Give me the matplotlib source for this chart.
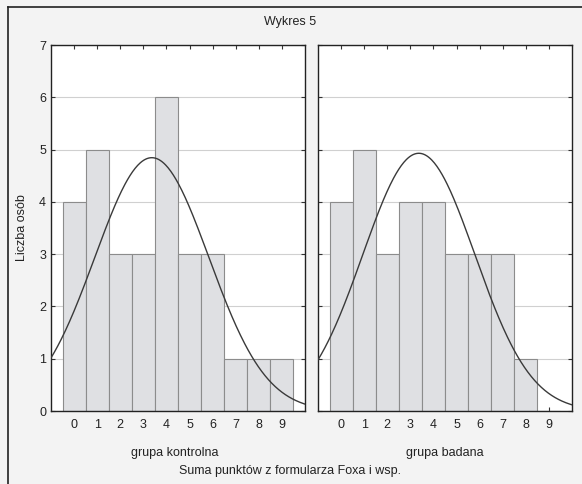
import numpy as np
import matplotlib
matplotlib.use("Agg")
import matplotlib.pyplot as plt
from matplotlib.lines import Line2D

# dane
punkty = [0, 1, 2, 3, 4, 5, 6, 7, 8, 9]
kontrolna = [4, 5, 3, 3, 6, 3, 3, 1, 1, 1]
badana = [4, 5, 3, 4, 4, 3, 3, 3, 1, 0]
etykiety = ["grupa kontrolna", "grupa badana"]

plt.rcParams['font.family'] = ['Liberation Sans', 'DejaVu Sans']

fig = plt.figure(figsize=(5.82, 4.84), dpi=100)
fig.patch.set_facecolor('#f3f3f3')

W, H = 582.0, 484.0
def ax_rect(x0, x1, ytop, ybot):
    return [x0 / W, 1 - ybot / H, (x1 - x0) / W, (ybot - ytop) / H]

ax1 = fig.add_axes(ax_rect(51, 305, 45, 411))
ax2 = fig.add_axes(ax_rect(318, 572, 45, 411))

for ax, dane in [(ax1, kontrolna), (ax2, badana)]:
    ax.set_facecolor('white')
    ax.set_xlim(-1, 10)
    ax.set_ylim(0, 7)
    ax.set_yticks(range(8))
    ax.grid(axis='y', color='#d0d0d0', linewidth=0.8)
    ax.set_axisbelow(True)
    ax.bar(punkty, dane, width=1.0, color='#dfe0e3', edgecolor='#8c8c8c', linewidth=0.8, zorder=2)
    # krzywa normalna dopasowana do danych
    x = np.array(punkty, dtype=float)
    c = np.array(dane, dtype=float)
    n = c.sum()
    m = (x * c).sum() / n
    s = np.sqrt(((x - m) ** 2 * c).sum() / (n - 1))
    xx = np.linspace(-1, 10, 300)
    yy = n / (s * np.sqrt(2 * np.pi)) * np.exp(-0.5 * ((xx - m) / s) ** 2)
    ax.plot(xx, yy, color='#3a3a3a', linewidth=1.0, zorder=3)
    ax.set_xticks(punkty)
    ax.tick_params(axis='both', direction='in', length=3, color='#333333',
                   labelsize=9, labelcolor='#222222', top=True, right=True)
    ax.tick_params(axis='x', pad=6)
    for sp in ax.spines.values():
        sp.set_color('#222222')
        sp.set_linewidth(1.0)

ax2.tick_params(axis='y', labelleft=False)

fig.text(22 / W, 1 - 228 / H, "Liczba osób", rotation=90, ha='center', va='center', fontsize=9, color='#222222')
fig.text(175 / W, 1 - 453 / H, etykiety[0], ha='center', va='center', fontsize=9, color='#222222')
fig.text(445 / W, 1 - 453 / H, etykiety[1], ha='center', va='center', fontsize=9, color='#222222')
fig.text(290 / W, 1 - 22 / H, "Wykres 5", ha='center', va='center', fontsize=9, color='#222222')
fig.text(290 / W, 1 - 471 / H, "Suma punktów z formularza Foxa i wsp.", ha='center', va='center',
         fontsize=9, color='#222222')

# ramka
fig.add_artist(Line2D([8 / W, 8 / W], [0, 1 - 7 / H], transform=fig.transFigure, color='#222222', linewidth=1.2))
fig.add_artist(Line2D([8 / W, 1], [1 - 7 / H, 1 - 7 / H], transform=fig.transFigure, color='#222222', linewidth=1.2))

fig.savefig("out.png", dpi=100, facecolor=fig.get_facecolor())
